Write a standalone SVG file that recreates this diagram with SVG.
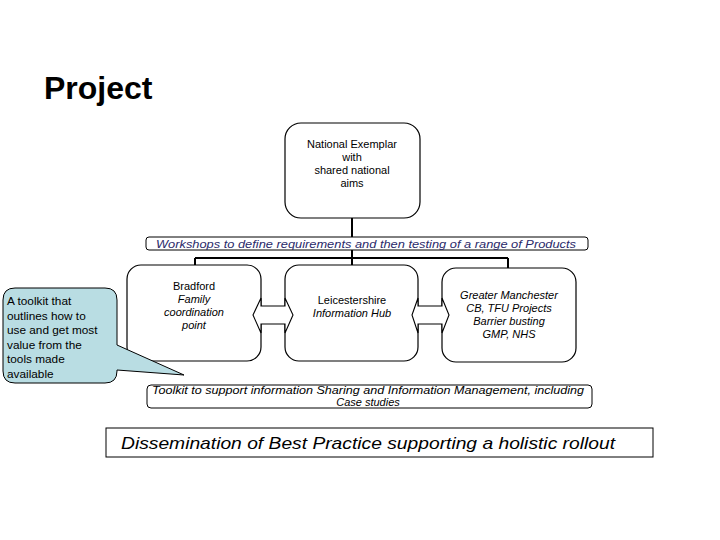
<svg xmlns="http://www.w3.org/2000/svg" width="720" height="540" viewBox="0 0 720 540">
<style>
.box{fill:#fff;stroke:#000;stroke-width:1.2}
.t{font-family:"Liberation Sans",Arial,sans-serif;font-size:11px;fill:#000;text-anchor:middle}
.i{font-style:italic}
.con{fill:none;stroke:#000;stroke-width:2}
.dar{fill:#fff;stroke:#000;stroke-width:1.1}
</style>
<rect width="720" height="540" fill="#fff"/>
<text x="44" y="99" font-family="Liberation Sans,Arial,sans-serif" font-size="32" font-weight="bold">Project</text>

<g id="connectors">
<path class="con" d="M352 218V237M352 250V258M195 258H508M195 258V266M352 258V266M508 258V268"/>
</g>

<g id="national">
<rect class="box" x="285" y="123" width="135" height="95" rx="16"/>
<text class="t" x="352" y="148">National Exemplar</text>
<text class="t" x="352" y="161">with</text>
<text class="t" x="352" y="174">shared national</text>
<text class="t" x="352" y="187">aims</text>
</g>

<g id="workshops">
<rect x="146" y="237" width="442" height="13" rx="3" fill="#fff" stroke="#000" stroke-width="1"/>
<text x="366" y="247.5" font-family="Liberation Sans,Arial,sans-serif" font-size="11" font-style="italic" fill="#2a2a6a" text-anchor="middle" textLength="420" lengthAdjust="spacingAndGlyphs">Workshops to define requirements and then testing of a range of Products</text>
</g>

<g id="bradford">
<rect class="box" x="127" y="265" width="134" height="96" rx="14"/>
<text class="t" x="194" y="290">Bradford</text>
<text class="t i" x="194" y="303">Family</text>
<text class="t i" x="194" y="316">coordination</text>
<text class="t i" x="194" y="329">point</text>
</g>

<g id="leicestershire">
<rect class="box" x="285" y="265" width="133" height="96" rx="14"/>
<text class="t" x="352" y="304">Leicestershire</text>
<text class="t i" x="352" y="317">Information Hub</text>
</g>

<g id="manchester">
<rect class="box" x="442" y="268" width="134" height="94" rx="14"/>
<text class="t i" x="509" y="299">Greater Manchester</text>
<text class="t i" x="509" y="312">CB, TFU Projects</text>
<text class="t i" x="509" y="325">Barrier busting</text>
<text class="t i" x="509" y="338">GMP, NHS</text>
</g>

<g id="arrows">
<path id="arrow1" class="dar" d="M253 315L261 298V306H285V298L293 315L285 333V324H261V333Z"/>
<path id="arrow2" class="dar" d="M412 315L418 298V306H442V298L449 315L442 333V324H418V333Z"/>
</g>

<g id="callout">
<path d="M15 288H105Q117 288 117 300V345L184 375L117 370V371Q117 383 105 383H15Q3 383 3 371V300Q3 288 15 288Z" fill="#b9dde3" stroke="#000" stroke-width="1"/>
<g font-family="Liberation Sans,Arial,sans-serif" font-size="11.8" fill="#000">
<text x="7" y="305">A toolkit that</text>
<text x="7" y="319.5">outlines how to</text>
<text x="7" y="334">use and get most</text>
<text x="7" y="348.5">value from the</text>
<text x="7" y="363">tools made</text>
<text x="7" y="377.5">available</text>
</g>
</g>

<g id="toolkit">
<rect x="147" y="385" width="445" height="23" rx="4" fill="#fff" stroke="#000" stroke-width="1"/>
<text class="t i" x="368" y="394" textLength="432" lengthAdjust="spacingAndGlyphs">Toolkit to support information Sharing and Information Management, including</text>
<text class="t i" x="368" y="406">Case studies</text>
</g>

<g id="dissemination">
<rect x="106" y="428" width="547" height="29" fill="#fff" stroke="#000" stroke-width="1"/>
<text x="368" y="449" font-family="Liberation Sans,Arial,sans-serif" font-size="17" font-style="italic" text-anchor="middle" textLength="494" lengthAdjust="spacingAndGlyphs">Dissemination of Best Practice supporting a holistic rollout</text>
</g>
</svg>
